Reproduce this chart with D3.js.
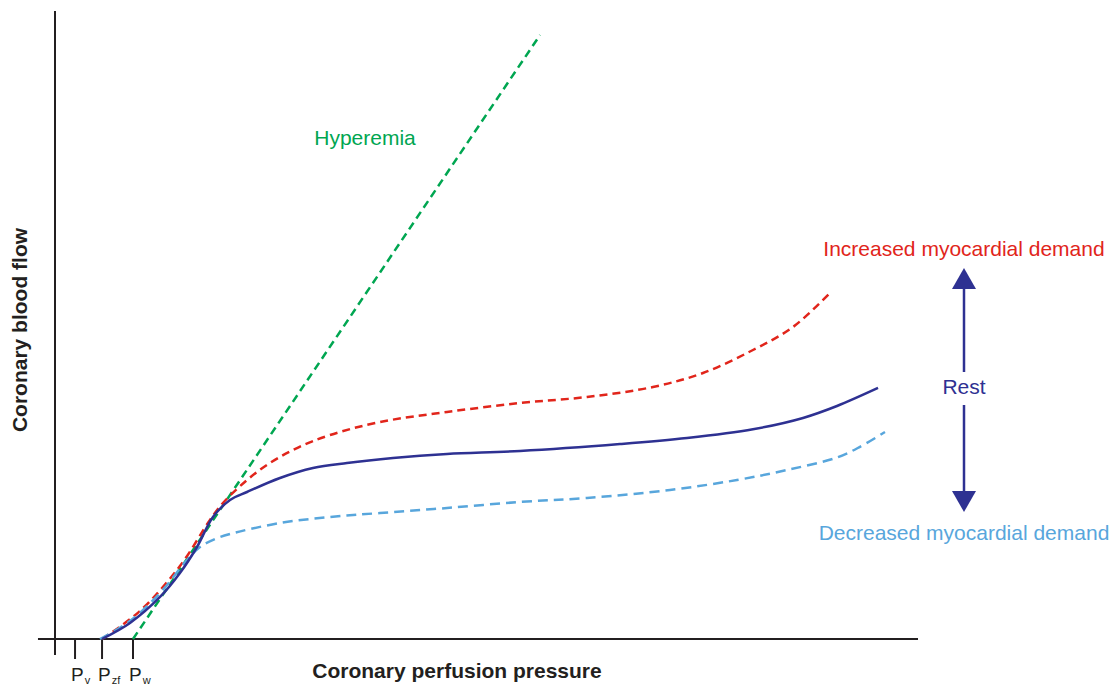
<!DOCTYPE html>
<html>
<head>
<meta charset="utf-8">
<script src="https://cdn.jsdelivr.net/npm/d3@7"></script>
<style>
  html, body { margin: 0; padding: 0; background: #fff; }
  svg { display: block; font-family: "Liberation Sans", Arial, sans-serif; }
</style>
</head>
<body>
<svg id="chart" width="1114" height="689"></svg>
<script>
// ---- Data (pressure / flow in arbitrary units) ----
const restPressure = [5.47, 8.72, 12.21, 14.53, 16.51, 18.37, 20.35, 22.33, 26.16, 30.0, 33.95, 39.30, 45.58, 54.07, 65.70, 73.49, 81.16, 86.98, 90.93, 95.70];
const restFlow     = [0, 2.55, 6.69, 10.51, 14.65, 19.43, 22.13, 23.41, 25.64, 27.23, 28.03, 28.82, 29.46, 29.94, 31.05, 32.01, 33.40, 35.20, 37.10, 39.97];

const increasedPressure = [5.47, 9.88, 14.53, 18.02, 19.53, 22.33, 25.0, 28.14, 31.98, 37.79, 45.58, 54.07, 61.86, 69.53, 75.35, 81.16, 85.81, 90.12];
const increasedFlow     = [0, 4.46, 11.62, 18.95, 21.66, 25.32, 28.03, 30.41, 32.48, 34.55, 36.15, 37.58, 38.54, 40.13, 42.36, 46.02, 49.68, 55.10];

const decreasedPressure = [5.23, 8.72, 12.21, 15.35, 16.86, 18.60, 20.35, 26.16, 31.98, 37.79, 45.58, 54.07, 61.86, 71.51, 79.30, 85.12, 90.93, 93.60, 96.51];
const decreasedFlow     = [0, 2.87, 7.32, 12.58, 14.65, 15.92, 16.72, 18.47, 19.43, 20.06, 20.86, 21.82, 22.45, 23.73, 25.32, 26.91, 28.90, 30.60, 32.96];

const hyperemiaPressure = [9.07, 56.40];
const hyperemiaFlow     = [0, 96.18];

const tickPressures = [2.33, 5.47, 9.07];
const tickMain      = ["P", "P", "P"];
const tickSub       = ["v", "zf", "w"];

const xDomain = [0, 100];
const yDomain = [0, 100];

// ---- Layout ----
const svg = d3.select("#chart");
const x = d3.scaleLinear().domain(xDomain).range([55, 915]);
const y = d3.scaleLinear().domain(yDomain).range([639, 11]);

const colors = {
  axis: "#231f20",
  rest: "#2e3192",
  inc: "#e1251b",
  dec: "#58a6dc",
  hyp: "#00a651"
};

// Axes lines
svg.append("line").attr("x1", x(-1.98)).attr("x2", x(100.35)).attr("y1", y(0)).attr("y2", y(0))
  .attr("stroke", colors.axis).attr("stroke-width", 2);
svg.append("line").attr("x1", x(0)).attr("x2", x(0)).attr("y1", y(100)).attr("y2", y(-2.55))
  .attr("stroke", colors.axis).attr("stroke-width", 2);

// Ticks
tickPressures.forEach((p, i) => {
  svg.append("line").attr("x1", x(p)).attr("x2", x(p)).attr("y1", y(0)).attr("y2", y(0) + 20)
    .attr("stroke", colors.axis).attr("stroke-width", 2);
  const t = svg.append("text").attr("x", x(p) - 4).attr("y", 681)
    .attr("font-size", 19).attr("fill", colors.axis);
  t.append("tspan").text(tickMain[i]);
  t.append("tspan").attr("font-size", 11).attr("dy", 3).attr("dx", 1).text(tickSub[i]);
});

// Curves
const line = d3.line().x(d => x(d[0])).y(d => y(d[1])).curve(d3.curveCatmullRom.alpha(0.5));
const zip = (a, b) => a.map((v, i) => [v, b[i]]);

svg.append("path").datum(zip(hyperemiaPressure, hyperemiaFlow)).attr("d", d3.line().x(d => x(d[0])).y(d => y(d[1])))
  .attr("fill", "none").attr("stroke", colors.hyp).attr("stroke-width", 2.5).attr("stroke-dasharray", "8,5");
svg.append("path").datum(zip(increasedPressure, increasedFlow)).attr("d", line)
  .attr("fill", "none").attr("stroke", colors.inc).attr("stroke-width", 2.5).attr("stroke-dasharray", "8,5");
svg.append("path").datum(zip(decreasedPressure, decreasedFlow)).attr("d", line)
  .attr("fill", "none").attr("stroke", colors.dec).attr("stroke-width", 2.5).attr("stroke-dasharray", "10,6");
svg.append("path").datum(zip(restPressure, restFlow)).attr("d", line)
  .attr("fill", "none").attr("stroke", colors.rest).attr("stroke-width", 2.5);

// Labels
svg.append("text").attr("x", 365).attr("y", 145).attr("text-anchor", "middle")
  .attr("font-size", 21).attr("fill", colors.hyp).text("Hyperemia");
svg.append("text").attr("x", 964).attr("y", 256).attr("text-anchor", "middle")
  .attr("font-size", 21).attr("fill", colors.inc).text("Increased myocardial demand");
svg.append("text").attr("x", 964).attr("y", 540).attr("text-anchor", "middle")
  .attr("font-size", 21).attr("fill", colors.dec).text("Decreased myocardial demand");
svg.append("text").attr("x", 964).attr("y", 394).attr("text-anchor", "middle")
  .attr("font-size", 21).attr("fill", colors.rest).text("Rest");

// Arrow
svg.append("line").attr("x1", 964).attr("x2", 964).attr("y1", 288).attr("y2", 372)
  .attr("stroke", colors.rest).attr("stroke-width", 2.5);
svg.append("line").attr("x1", 964).attr("x2", 964).attr("y1", 405).attr("y2", 492)
  .attr("stroke", colors.rest).attr("stroke-width", 2.5);
svg.append("path").attr("d", "M964,268 L976,289 L952,289 Z").attr("fill", colors.rest);
svg.append("path").attr("d", "M964,512 L976,491 L952,491 Z").attr("fill", colors.rest);

// Axis titles
svg.append("text").attr("x", 457).attr("y", 678).attr("text-anchor", "middle")
  .attr("font-size", 21).attr("font-weight", "bold").attr("fill", colors.axis).text("Coronary perfusion pressure");
svg.append("text").attr("transform", "translate(27,330) rotate(-90)").attr("text-anchor", "middle")
  .attr("font-size", 21).attr("font-weight", "bold").attr("fill", colors.axis).text("Coronary blood flow");
</script>
</body>
</html>
